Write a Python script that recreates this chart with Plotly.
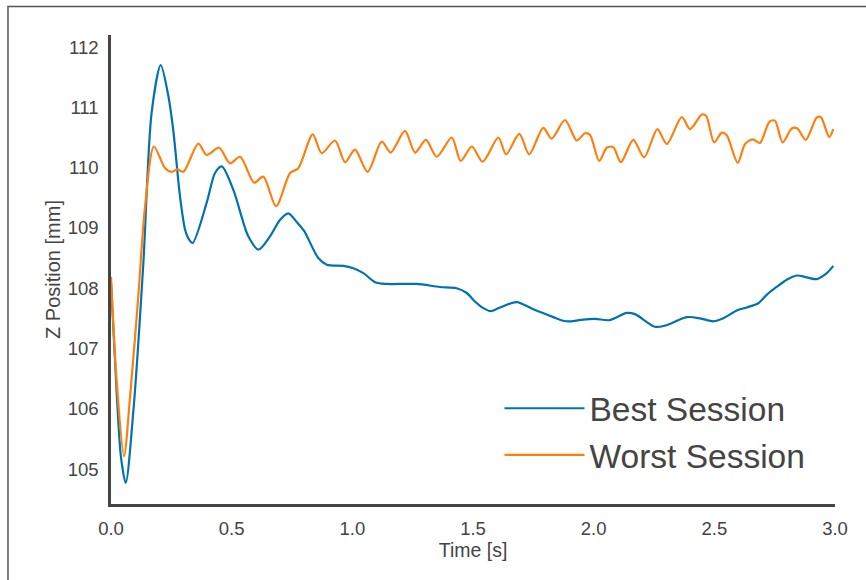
import plotly.graph_objects as go

# ---- data ----
best_t = [0.000, 0.023, 0.041, 0.061, 0.092, 0.134, 0.168, 0.206, 0.238, 0.258, 0.286, 0.307,
          0.320, 0.338, 0.396, 0.431, 0.459, 0.507, 0.569, 0.611, 0.659, 0.700, 0.735, 0.769,
          0.800, 0.859, 0.894, 0.963, 1.004, 1.046, 1.094, 1.142, 1.266, 1.363, 1.432, 1.474,
          1.508, 1.543, 1.573, 1.612, 1.681, 1.750, 1.833, 1.874, 1.902, 1.957, 2.006, 2.067,
          2.137, 2.171, 2.254, 2.296, 2.386, 2.441, 2.496, 2.537, 2.593, 2.634, 2.682, 2.717,
          2.758, 2.800, 2.841, 2.883, 2.924, 2.966, 2.993]
best_z = [108.10, 106.31, 105.21, 104.77, 105.93, 108.41, 110.90, 111.70, 111.18, 110.62, 109.52, 108.97,
          108.83, 108.75, 109.41, 109.91, 110.02, 109.63, 108.86, 108.64, 108.86, 109.13, 109.24, 109.10,
          108.95, 108.50, 108.39, 108.37, 108.33, 108.25, 108.10, 108.07, 108.07, 108.02, 108.00, 107.92,
          107.78, 107.67, 107.62, 107.68, 107.77, 107.65, 107.52, 107.46, 107.45, 107.48, 107.49, 107.47,
          107.59, 107.57, 107.36, 107.38, 107.52, 107.50, 107.45, 107.50, 107.63, 107.68, 107.75, 107.89,
          108.02, 108.14, 108.21, 108.18, 108.15, 108.25, 108.37]

worst_t = [0.000, 0.023, 0.054, 0.079, 0.113, 0.141, 0.178, 0.224, 0.251, 0.275, 0.300, 0.362,
           0.396, 0.448, 0.493, 0.535, 0.593, 0.631, 0.684, 0.742, 0.776, 0.836, 0.873, 0.928,
           0.970, 1.011, 1.063, 1.122, 1.159, 1.218, 1.260, 1.305, 1.350, 1.412, 1.449, 1.495,
           1.540, 1.605, 1.637, 1.692, 1.733, 1.791, 1.826, 1.881, 1.930, 1.964, 1.985, 2.023,
           2.054, 2.081, 2.113, 2.164, 2.209, 2.264, 2.303, 2.365, 2.399, 2.448, 2.466, 2.499,
           2.531, 2.551, 2.597, 2.627, 2.659, 2.689, 2.728, 2.751, 2.783, 2.821, 2.844, 2.879,
           2.924, 2.941, 2.976, 2.993]
worst_z = [108.19, 106.48, 105.21, 106.20, 107.86, 109.35, 110.35, 109.99, 109.93, 109.97, 109.93, 110.40,
           110.21, 110.33, 110.07, 110.18, 109.75, 109.85, 109.36, 109.91, 109.99, 110.55, 110.24, 110.45,
           110.09, 110.30, 109.93, 110.43, 110.25, 110.61, 110.25, 110.46, 110.18, 110.50, 110.11, 110.35,
           110.10, 110.50, 110.22, 110.56, 110.22, 110.66, 110.48, 110.79, 110.45, 110.57, 110.54, 110.11,
           110.33, 110.34, 110.09, 110.46, 110.17, 110.64, 110.39, 110.84, 110.64, 110.88, 110.86, 110.42,
           110.58, 110.54, 110.08, 110.39, 110.47, 110.41, 110.76, 110.78, 110.42, 110.65, 110.65, 110.46,
           110.83, 110.84, 110.51, 110.64]

series_names = ["Best Session", "Worst Session"]
x_ticks = [0.0, 0.5, 1.0, 1.5, 2.0, 2.5, 3.0]
x_tick_labels = ["0.0", "0.5", "1.0", "1.5", "2.0", "2.5", "3.0"]
y_ticks = [105, 106, 107, 108, 109, 110, 111, 112]
y_tick_labels = ["105", "106", "107", "108", "109", "110", "111", "112"]

BLUE = "#0072B2"
ORANGE = "#FF7F0E"
TXT = "#444444"
FONT = "Liberation Sans, Arial, sans-serif"

fig = go.Figure()
fig.add_trace(go.Scatter(x=best_t, y=best_z, mode="lines", name=series_names[0], legendgroup="best",
                         line=dict(color=BLUE, width=2.2, shape="spline", smoothing=0.8)))
fig.add_trace(go.Scatter(x=worst_t, y=worst_z, mode="lines", name=series_names[1], legendgroup="worst",
                         line=dict(color=ORANGE, width=2.2, shape="spline", smoothing=0.8)))

fig.update_layout(
    width=866, height=580,
    margin=dict(l=111, r=31, t=35, b=76),
    paper_bgcolor="white", plot_bgcolor="white",
    font=dict(family=FONT, color=TXT, size=18.5),
    showlegend=True,
    legend=dict(x=0.5366, y=0.2644, xanchor="left", yanchor="top",
                bgcolor="rgba(0,0,0,0)", borderwidth=0,
                font=dict(size=33.5, color=TXT), itemwidth=80,
                tracegroupgap=0),
    xaxis=dict(range=[0, 3.0], tickvals=x_ticks, ticktext=x_tick_labels,
               showgrid=False, zeroline=False, showline=True, linecolor=TXT, linewidth=2.5,
               ticks="", ticklabelstandoff=6,
               title=dict(text="Time [s]", font=dict(size=19.5, color=TXT), standoff=2)),
    yaxis=dict(range=[104.42, 112.2], tickvals=y_ticks, ticktext=y_tick_labels,
               showgrid=False, zeroline=False, showline=True, linecolor=TXT, linewidth=2.5,
               ticks="", ticklabelstandoff=6,
               title=dict(text="Z Position [mm]", font=dict(size=20, color=TXT), standoff=2)),
    shapes=[dict(type="rect", xref="paper", yref="paper",
                 x0=-0.1423, x1=1.2, y0=-0.3, y1=1.0608,
                 line=dict(color="#555555", width=1.5), fillcolor="rgba(0,0,0,0)", layer="below")],
)

fig.write_html("out.html")
